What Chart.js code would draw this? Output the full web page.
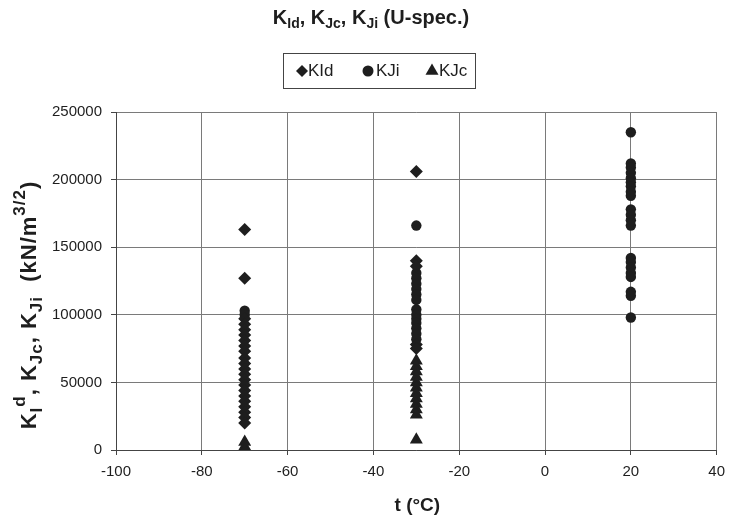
<!DOCTYPE html>
<html>
<head>
<meta charset="utf-8">
<script src="https://cdn.jsdelivr.net/npm/chart.js@4.4.1/dist/chart.umd.min.js"></script>
<style>
  html, body { margin: 0; padding: 0; background: #fff; }
  #wrap { width: 733px; height: 524px; position: relative; }
</style>
</head>
<body>
<div id="wrap"><canvas id="chart"></canvas></div>
<script>
// values (t in °C, K in kN/m^3/2)
const kIdTemp = [-70, -70, -70, -70, -70, -70, -70, -70, -70, -70, -70, -70, -70, -70, -70, -70, -70, -70, -70, -70, -70, -70,
                 -30, -30, -30, -30, -30];
const kIdVal = [163000, 127000, 97000, 93000, 89000, 85000, 81000, 77000, 73000, 68000, 64000, 60000, 56000, 52000, 48000, 44000, 40000, 36000, 32000, 28000, 24000, 20000,
                206000, 140000, 136000, 78000, 75000];

const kJiTemp = [-70, -70,
                 -30, -30, -30, -30, -30, -30, -30, -30, -30, -30, -30, -30, -30, -30,
                 20, 20, 20, 20, 20, 20, 20, 20, 20, 20, 20, 20, 20, 20, 20, 20, 20, 20, 20, 20, 20];
const kJiVal = [103000, 100000,
                166000, 131000, 127000, 123000, 119000, 115000, 111000, 104000, 100000, 97000, 94000, 90000, 86000, 82000,
                235000, 212000, 209000, 205000, 201000, 198000, 195000, 191000, 188000, 178000, 174000, 170000, 166000,
                142000, 139000, 135000, 131000, 128000, 117000, 114000, 98000];

const kJcTemp = [-70, -70, -70,
                 -30, -30, -30, -30, -30, -30, -30, -30, -30, -30, -30, -30];
const kJcVal = [6000, 2500, 0,
                66000, 62000, 58000, 54000, 50000, 46000, 42000, 38000, 34000, 30000, 26000, 7500];

const xTicks = [-100, -80, -60, -40, -20, 0, 20, 40];
const yTicks = [0, 50000, 100000, 150000, 200000, 250000];

const FONT = "'Liberation Sans', Arial, sans-serif";
const INK = '#1e1e1e';

function pts(xs, ys) {
  return xs.map((x, i) => ({ x, y: ys[i] }));
}

// draws a row of text runs: [text, 'n' | 'sub' | 'sup'], centred on x
function drawRich(ctx, runs, x, y, size, bold, smallScale, spacing) {
  const w = bold ? 'bold ' : '';
  const sc = smallScale || 0.68;
  ctx.letterSpacing = (spacing || 0) + 'px';
  const fontOf = m => (m === 'n' ? size : Math.round(size * sc)) + 'px ' + FONT;
  let total = 0;
  const widths = runs.map(([t, m]) => {
    ctx.font = w + fontOf(m);
    const tw = ctx.measureText(t).width;
    total += tw;
    return tw;
  });
  let cx = x - total / 2;
  ctx.textBaseline = 'middle';
  ctx.textAlign = 'left';
  runs.forEach(([t, m], i) => {
    ctx.font = w + fontOf(m);
    let dy = 0;
    if (m === 'sub') dy = size * 0.32;
    if (m === 'sup') dy = -size * 0.42;
    ctx.fillText(t, cx, y + dy);
    cx += widths[i];
  });
  ctx.letterSpacing = '0px';
}

const decorations = {
  id: 'decorations',
  afterDraw(chart) {
    const { ctx, chartArea } = chart;
    ctx.save();
    ctx.fillStyle = INK;

    // title
    drawRich(ctx, [['K', 'n'], ['Id', 'sub'], [', K', 'n'], ['Jc', 'sub'], [', K', 'n'], ['Ji', 'sub'], [' (U-spec.)', 'n']],
      371, 18, 20, true);

    // legend box
    ctx.strokeStyle = '#444';
    ctx.lineWidth = 1;
    ctx.strokeRect(283.5, 53.5, 192, 35);
    const legendX = [302, 368, 432];
    const textGap = [6, 8, 7];
    chart.data.datasets.forEach((ds, i) => {
      ctx.fillStyle = INK;
      Chart.helpers.drawPoint(ctx, {
        pointStyle: ds.pointStyle,
        radius: ds.legendRadius,
        borderWidth: 0
      }, legendX[i], 71);
      ctx.font = '17px ' + FONT;
      ctx.textAlign = 'left';
      ctx.textBaseline = 'middle';
      ctx.fillText(ds.label, legendX[i] + textGap[i], 71);
    });

    // x axis title
    ctx.fillStyle = INK;
    drawRich(ctx, [['t (°C)', 'n']], (chartArea.left + chartArea.right) / 2 + 1, 506, 19, true);

    // y axis title
    ctx.save();
    ctx.translate(30, 305);
    ctx.rotate(-Math.PI / 2);
    drawRich(ctx, [['K', 'n'], ['I', 'sub'], ['d', 'sup'], [', K', 'n'], ['Jc', 'sub'], [', K', 'n'], ['Ji', 'sub'],
      ['  (kN/m', 'n'], ['3/2', 'sup'], [')', 'n']], 0, 0, 22, true, 0.75, 1);
    ctx.restore();

    ctx.restore();
  }
};

const ctx = document.getElementById('chart').getContext('2d');
new Chart(ctx, {
  type: 'scatter',
  data: {
    datasets: [
      {
        label: 'KId',
        data: pts(kIdTemp, kIdVal),
        pointStyle: 'rectRot',
        pointRadius: 6.5,
        legendRadius: 6,
        backgroundColor: INK,
        borderColor: INK,
        borderWidth: 0
      },
      {
        label: 'KJi',
        data: pts(kJiTemp, kJiVal),
        pointStyle: 'circle',
        pointRadius: 5.2,
        legendRadius: 5.5,
        backgroundColor: INK,
        borderColor: INK,
        borderWidth: 0
      },
      {
        label: 'KJc',
        data: pts(kJcTemp, kJcVal),
        pointStyle: 'triangle',
        pointRadius: 7.5,
        legendRadius: 7.5,
        backgroundColor: INK,
        borderColor: INK,
        borderWidth: 0
      }
    ]
  },
  options: {
    responsive: true,
    maintainAspectRatio: false,
    animation: false,
    layout: { padding: { top: 112, left: 0, right: 6, bottom: 0 } },
    plugins: {
      legend: { display: false },
      tooltip: { enabled: false }
    },
    scales: {
      x: {
        type: 'linear',
        min: -100,
        max: 40,
        afterBuildTicks: s => { s.ticks = xTicks.map(v => ({ value: v })); },
        afterFit: s => { s.height = 74; },
        grid: { color: '#7a7a7a', tickColor: '#444', tickLength: 5, lineWidth: 1 },
        border: { color: '#444', width: 1 },
        ticks: {
          color: INK,
          padding: 8,
          font: { family: FONT, size: 15 },
          callback: v => String(v)
        }
      },
      y: {
        type: 'linear',
        min: 0,
        max: 250000,
        afterBuildTicks: s => { s.ticks = yTicks.map(v => ({ value: v })); },
        afterFit: s => { s.width = 116; },
        grid: { color: '#7a7a7a', tickColor: '#444', tickLength: 5, lineWidth: 1 },
        border: { color: '#444', width: 1 },
        ticks: {
          color: INK,
          padding: 9,
          font: { family: FONT, size: 15 },
          callback: v => String(v)
        }
      }
    }
  },
  plugins: [decorations]
});
</script>
</body>
</html>
